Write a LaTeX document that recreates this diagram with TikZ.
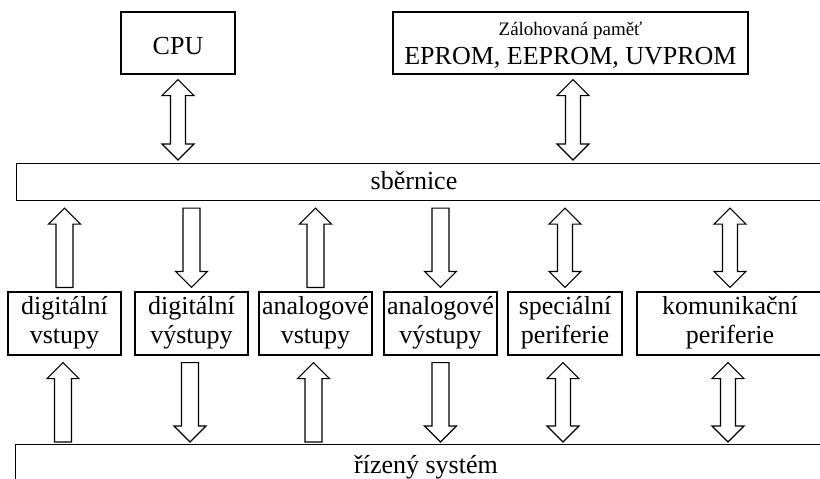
\documentclass[tikz,border=0pt]{standalone}
\usepackage{fontspec}
\setmainfont{Liberation Serif}
\usetikzlibrary{calc}

% head half-width and head length of the block arrows
\newcommand\arrhw{16pt}
\newcommand\arrhl{16pt}

% single block arrow: #1 shaft half-width, #2 tail point, #3 tip point (vertical)
\newcommand\onearrow[3]{%
  \draw[blk] let \p1=#2, \p2=#3, \n1={sign(\y2-\y1)} in
    (\x2-#1,\y1) -- (\x2-#1,{\y2-(\n1)*\arrhl}) -- (\x2-\arrhw,{\y2-(\n1)*\arrhl})
    -- (\x2,\y2) -- (\x2+\arrhw,{\y2-(\n1)*\arrhl}) -- (\x2+#1,{\y2-(\n1)*\arrhl})
    -- (\x2+#1,\y1) -- cycle;}

% double block arrow: #1 shaft half-width, #2 and #3 the two tips (vertical)
\newcommand\twoarrow[3]{%
  \draw[blk] let \p1=#2, \p2=#3, \n1={sign(\y2-\y1)} in
    (\x1,\y1) -- (\x1+\arrhw,{\y1+(\n1)*\arrhl}) -- (\x1+#1,{\y1+(\n1)*\arrhl})
    -- (\x1+#1,{\y2-(\n1)*\arrhl}) -- (\x1+\arrhw,{\y2-(\n1)*\arrhl}) -- (\x1,\y2)
    -- (\x1-\arrhw,{\y2-(\n1)*\arrhl}) -- (\x1-#1,{\y2-(\n1)*\arrhl})
    -- (\x1-#1,{\y1+(\n1)*\arrhl}) -- (\x1-\arrhw,{\y1+(\n1)*\arrhl}) -- cycle;}

\tikzset{
  txt/.style={font=\fontsize{26}{29}\selectfont},
  box/.style={txt, draw, line width=1.1pt, inner sep=0pt, align=center},
  unit/.style={box, minimum width=113pt, minimum height=63pt},
  blk/.style={draw, line width=1.1pt, line join=miter, fill=white},
}

\begin{document}
\begin{tikzpicture}[x=1pt, y=-1pt]
\useasboundingbox (0,0) rectangle (820,479);
\clip (0,0) rectangle (820,479);

% top row
\node[box, minimum width=114pt, minimum height=62pt] (cpu) at (178,43)
  {\rule{0pt}{24pt}CPU};
\node[box, minimum width=355pt, minimum height=62pt] (mem) at (570.5,43)
  {\rule{0pt}{17pt}{\fontsize{19}{22}\selectfont Zálohovaná paměť}\\EPROM, EEPROM, UVPROM};

% system bus
\node[draw, line width=1.1pt, inner sep=0pt, minimum width=830pt, minimum height=37pt,
      anchor=north west] (bus) at (16,163) {};
\node[txt, anchor=base] (buslbl) at (414,189) {sběrnice};

% peripheral units
\node[unit] (din)  at (64.5,323.5)  {\strut digitální\\vstupy\strut};
\node[unit] (dout) at (191.5,323.5) {\strut digitální\\výstupy\strut};
\node[unit] (ain)  at (315.5,323.5) {\strut analogové\\vstupy\strut};
\node[unit] (aout) at (440.5,323.5) {\strut analogové\\výstupy\strut};
\node[unit, minimum width=114pt] (spec) at (565,323.5) {\strut speciální\\periferie\strut};
\node[unit, minimum width=186pt] (comm) at (730,323.5) {\strut komunikační\\periferie\strut};

% controlled system
\node[draw, line width=1.1pt, inner sep=0pt, minimum width=830pt, minimum height=60pt,
      anchor=north west] (sys) at (15,444) {};
\node[txt, anchor=base] (syslbl) at (426,473) {řízený systém};

% CPU and memory to the bus
\twoarrow{7.5pt}{($(cpu.south)+(0,5)$)}{($(cpu.south |- bus.north)+(0,-3)$)}
\twoarrow{7.5pt}{($(mem.south)+(2.5,5)$)}{($(mem.south |- bus.north)+(2.5,-3)$)}

% units to the bus
\onearrow{8.5pt}{($(din.north)+(0,-4)$)}{($(din.north |- bus.south)+(0,7)$)}
\onearrow{8.5pt}{($(dout.north |- bus.south)+(0,7)$)}{($(dout.north)+(0,-4)$)}
\onearrow{8.5pt}{($(ain.north)+(0,-4)$)}{($(ain.north |- bus.south)+(0,7)$)}
\onearrow{8.5pt}{($(aout.north |- bus.south)+(0,7)$)}{($(aout.north)+(0,-4)$)}
\twoarrow{7.5pt}{($(spec.north |- bus.south)+(0,7)$)}{($(spec.north)+(0,-4)$)}
\twoarrow{7.5pt}{($(comm.north |- bus.south)+(0,7)$)}{($(comm.north)+(0,-4)$)}

% units to the controlled system
\onearrow{8.5pt}{($(din.south |- sys.north)+(-1.5,-2)$)}{($(din.south)+(-1.5,7)$)}
\onearrow{8.5pt}{($(dout.south)+(-1.5,7)$)}{($(dout.south |- sys.north)+(-1.5,-2)$)}
\onearrow{8.5pt}{($(ain.south |- sys.north)+(-2,-2)$)}{($(ain.south)+(-2,7)$)}
\onearrow{8.5pt}{($(aout.south)+(0,7)$)}{($(aout.south |- sys.north)+(0,-2)$)}
\twoarrow{7.5pt}{($(spec.south)+(-2,7)$)}{($(spec.south |- sys.north)+(-2,-2)$)}
\twoarrow{7.5pt}{($(comm.south)+(-2,7)$)}{($(comm.south |- sys.north)+(-2,-2)$)}
\end{tikzpicture}
\end{document}
